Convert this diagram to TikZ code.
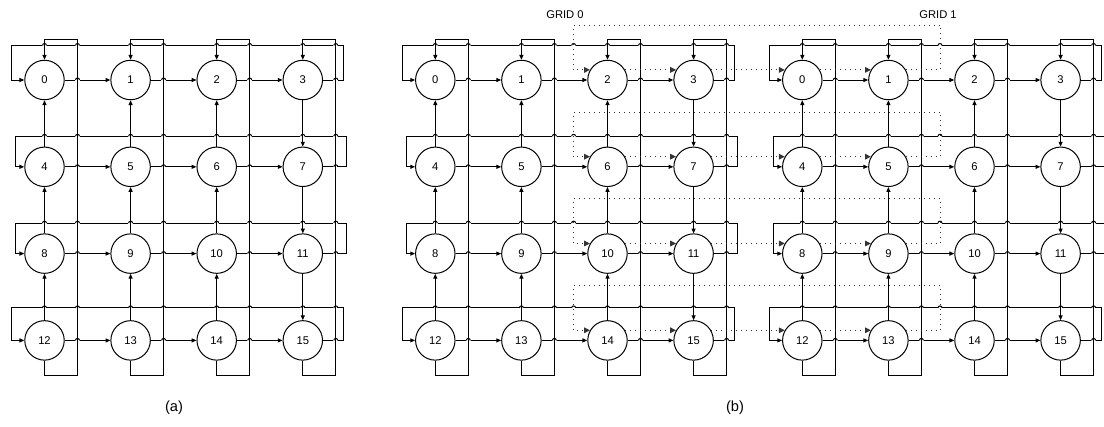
\documentclass[tikz,border=0pt]{standalone}
\usepackage{fontspec}
\setmainfont{Liberation Sans}
\usetikzlibrary{arrows.meta}

\begin{document}
\begin{tikzpicture}[
    x=0.75pt, y=-0.75pt,
    font=\fontsize{8.4}{10}\selectfont,
    line width=0.75pt,
    router/.style={
        draw,
        circle,
        inner sep=0pt,
        minimum size=29.6pt
    },
    arrow/.style={-{Triangle[length=3.6pt,width=3pt]}},
    dotlink/.style={draw=black!80, line width=0.75pt, dash pattern=on 0.75pt off 3pt},
    dotarrow/.style={dotlink, -{Triangle[length=4.4pt,width=4.2pt]}},
    caption/.style={font=\fontsize{11}{13}\selectfont},
    hop/.pic={
        \fill[white] (-2.4,-1.3) rectangle (2.4,1.3);
        \draw (-2,0) arc[start angle=180, end angle=360, radius=2];
    }
]

\useasboundingbox (0,0) rectangle (1104,426);

% the three 4x4 meshes: (a), grid 0 and grid 1 of (b)
\foreach \g/\gx in {a/44.5, g0/435.3, g1/802.3} {
    \foreach \i in {0,...,15} {
        \pgfmathsetmacro{\cx}{\gx+86.1*mod(\i,4)}
        \pgfmathsetmacro{\cy}{80+86.8*int(\i/4)}
        \node[router] (\g-\i) at (\cx,\cy) {\i};
    }
}

% rows: links, wrap-around and line jumps
\foreach \g/\gx in {a/44.5, g0/435.3, g1/802.3} {
    \foreach \row/\tp/\lf/\rt in {0/34.5/33.3/40, 1/30.5/29.5/43.3, 2/30.5/29.5/43.3, 3/32.5/33.3/40} {
        \pgfmathsetmacro{\cy}{80+86.8*\row}
        \pgfmathtruncatemacro{\first}{4*\row}
        \pgfmathtruncatemacro{\last}{4*\row+3}
        \foreach \j in {0,1,2} {
            \pgfmathtruncatemacro{\m}{4*\row+\j}
            \pgfmathtruncatemacro{\k}{4*\row+\j+1}
            \draw[arrow] (\g-\m) -- (\g-\k);
        }
        \draw[arrow] (\g-\last.east) -- ++(\rt-19.7,0) -- ++(0,-\tp) -- ++(-258.3-\rt-\lf,0) -- ++(0,\tp) -- (\g-\first.west);
        \foreach \j in {0,...,3} {
            \pic at ({\gx+86.1*\j+33},\cy) {hop};
            \pic at ({\gx+86.1*\j},\cy-\tp) {hop};
            \pic at ({\gx+86.1*\j+33},\cy-\tp) {hop};
        }
    }
}
\foreach \row/\tp in {0/34.5, 1/30.5, 2/30.5, 3/32.5} {
    \pic at (573.6,80+86.8*\row-\tp) {hop};
    \pic at (940,80+86.8*\row-\tp) {hop};
}

% columns: links and wrap-around
\foreach \g in {a, g0, g1} {
    \foreach \j in {0,1,2,3} {
        \foreach \row in {0,1,2} {
            \pgfmathtruncatemacro{\hi}{4*\row+\j}
            \pgfmathtruncatemacro{\lo}{4*\row+\j+4}
            \ifnum\j=3
                \draw[arrow] (\g-\hi) -- (\g-\lo);
            \else
                \draw[arrow] (\g-\lo) -- (\g-\hi);
            \fi
        }
        \pgfmathtruncatemacro{\last}{12+\j}
        \draw[arrow] (\g-\last.south) -- ++(0,15) -- ++(33,0) -- ++(0,-335.7) -- ++(-33,0) -- (\g-\j.north);
    }
}

% ring across the two grids
\foreach \row in {0,...,3} {
    \pgfmathtruncatemacro{\p}{4*\row}
    \pgfmathtruncatemacro{\q}{4*\row+1}
    \pgfmathtruncatemacro{\c}{4*\row+2}
    \pgfmathtruncatemacro{\d}{4*\row+3}
    \draw[dotarrow] (g0-\c.30) -- (g0-\d.150);
    \draw[dotarrow] (g0-\d.30) -- (g1-\p.150);
    \draw[dotarrow] (g1-\p.30) -- (g1-\q.150);
    \draw[dotarrow] (g1-\q.30) -- ++(34.5,0) -- ++(0,-44.65) -| ([xshift=-12.6pt]g0-\c.150) -- (g0-\c.150);
}

\node (grid0) at (565,15) {GRID 0};
\node (grid1) at (938,15) {GRID 1};
\node[caption] (capa) at (174,408) {(a)};
\node[caption] (capb) at (735,408) {(b)};

\end{tikzpicture}
\end{document}
